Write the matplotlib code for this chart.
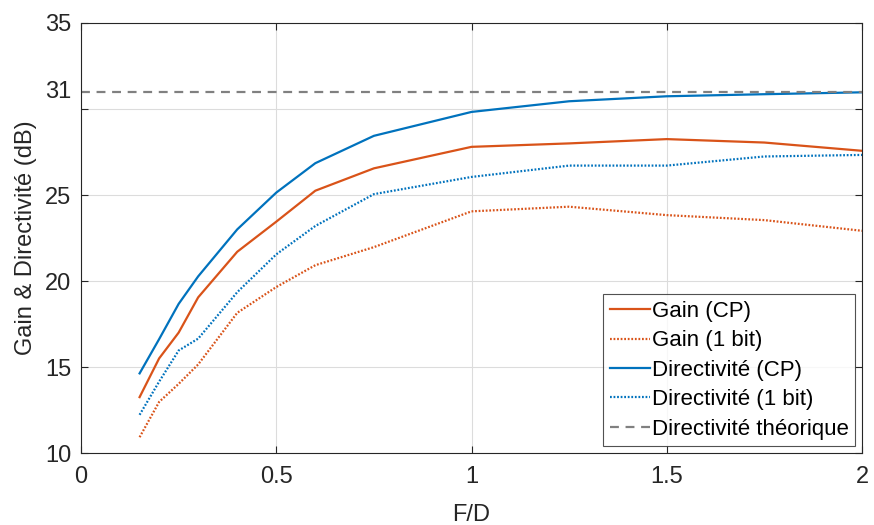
import numpy as np
import matplotlib
matplotlib.use("Agg")
import matplotlib.pyplot as plt
from matplotlib.transforms import blended_transform_factory

plt.rcParams["font.family"] = ["Liberation Sans", "DejaVu Sans"]

# F/D ratios
fd = [0.15, 0.2, 0.25, 0.3, 0.4, 0.5, 0.6, 0.75, 1.0, 1.25, 1.5, 1.75, 2.0]

# values [dB]
gain_cp = [13.25, 15.5, 17.0, 19.05, 21.7, 23.45, 25.25, 26.55, 27.8, 28.0, 28.25, 28.05, 27.57]
gain_1bit = [10.92, 12.97, 14.02, 15.15, 18.15, 19.65, 20.92, 21.97, 24.05, 24.32, 23.83, 23.54, 22.92]
dir_cp = [14.63, 16.62, 18.67, 20.27, 23.0, 25.14, 26.85, 28.44, 29.83, 30.45, 30.74, 30.86, 30.97]
dir_1bit = [12.22, 14.15, 15.96, 16.65, 19.35, 21.55, 23.2, 25.05, 26.05, 26.71, 26.71, 27.24, 27.33]
dir_theo = 31.0

ORANGE = "#D95319"
BLUE = "#0072BD"
TXT = "#262626"

fig = plt.figure(figsize=(8.74, 5.25), dpi=100)
ax = fig.add_axes([0.0927, 0.1371, 0.8936, 0.8191])

ax.plot(fd, gain_cp, color=ORANGE, lw=1.6, label="Gain (CP)")
ax.plot(fd, gain_1bit, color=ORANGE, lw=1.6, ls=(0, (0.8, 0.8)), label="Gain (1 bit)")
ax.plot(fd, dir_cp, color=BLUE, lw=1.6, label="Directivité (CP)")
ax.plot(fd, dir_1bit, color=BLUE, lw=1.6, ls=(0, (0.8, 0.8)), label="Directivité (1 bit)")
ax.plot([0, 2], [dir_theo, dir_theo], color="#808080", lw=1.6, ls=(0, (4, 3)),
        label="Directivité théorique")

ax.set_xlim(0, 2)
ax.set_ylim(10, 35)
ax.set_xticks([0, 0.5, 1, 1.5, 2])
ax.set_xticklabels(["0", "0.5", "1", "1.5", "2"])
ax.set_yticks([10, 15, 20, 25, 30, 35])
ax.set_yticklabels(["10", "15", "20", "25", "", "35"])
ax.text(-0.012, dir_theo, "31", transform=blended_transform_factory(ax.transAxes, ax.transData),
        ha="right", va="center", fontsize=17, color=TXT)

ax.tick_params(direction="in", length=5, width=0.8, labelsize=17, colors=TXT,
               top=True, right=True)
ax.tick_params(axis="x", pad=9)
ax.tick_params(axis="y", pad=7)
ax.grid(True, color="#dcdcdc", lw=0.8)
ax.set_axisbelow(True)
for s in ax.spines.values():
    s.set_color(TXT)
    s.set_linewidth(0.8)

ax.set_xlabel("F/D", fontsize=17, color=TXT, labelpad=12)
ax.set_ylabel("Gain & Directivité (dB)", fontsize=17, color=TXT, labelpad=6)

leg = ax.legend(loc="lower right", fontsize=16, frameon=True, fancybox=False,
                handlelength=1.8, handletextpad=0.1, labelspacing=0.38,
                borderpad=0.3, borderaxespad=0.3)
leg.get_frame().set_edgecolor(TXT)
leg.get_frame().set_linewidth(0.8)

fig.savefig("out.png", dpi=100)
